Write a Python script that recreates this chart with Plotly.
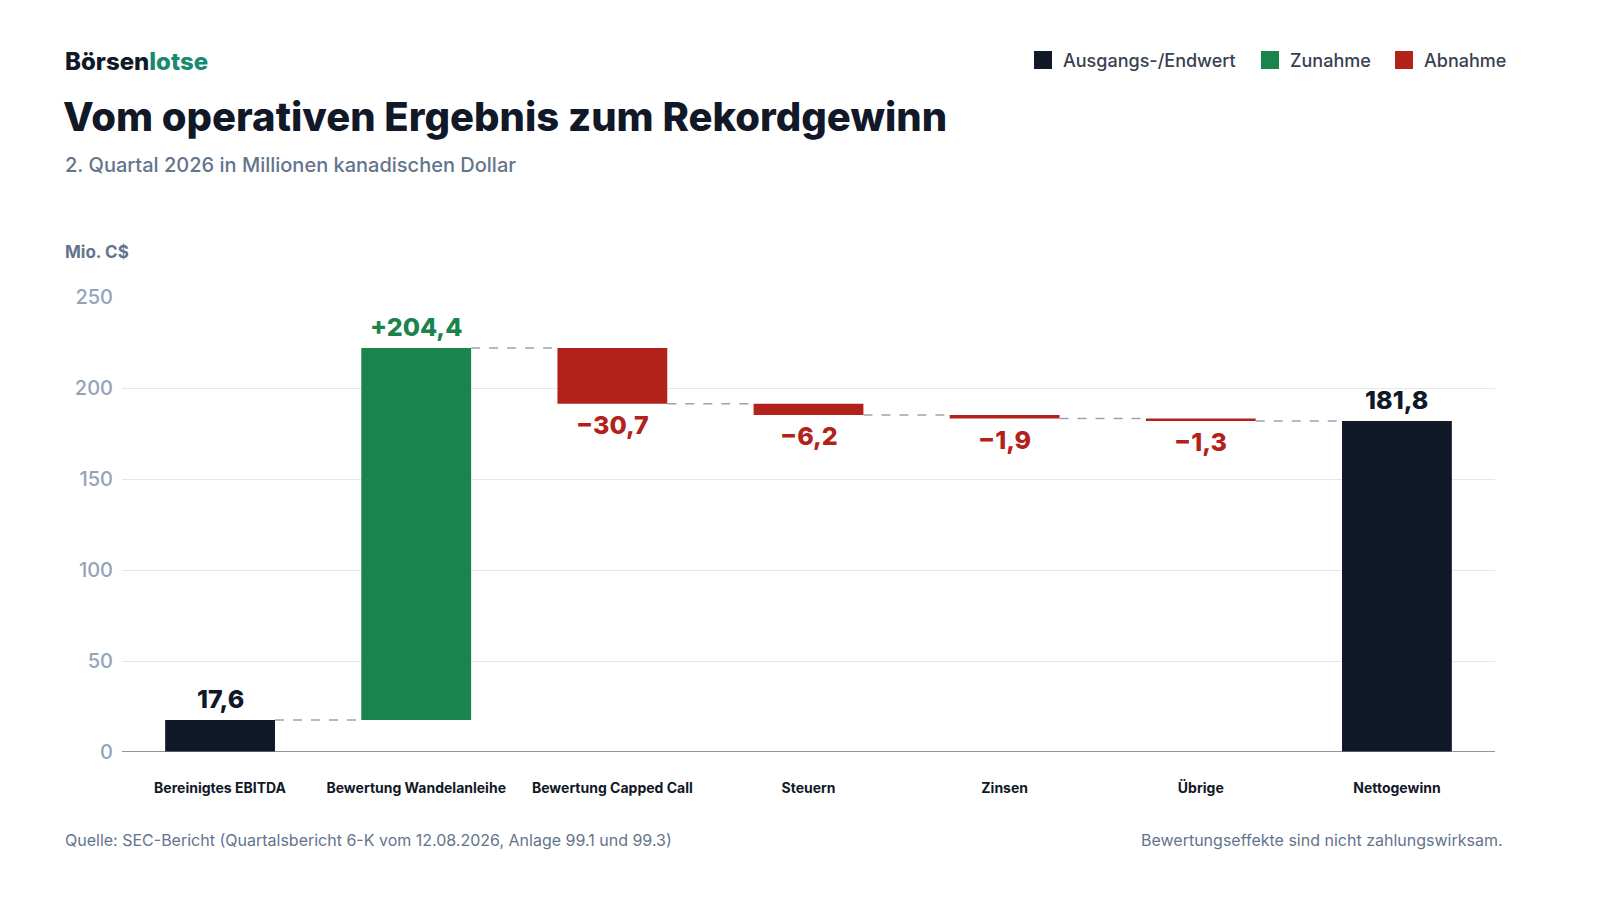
import plotly.graph_objects as go

categories = ["Bereinigtes EBITDA", "Bewertung Wandelanleihe", "Bewertung Capped Call",
              "Steuern", "Zinsen", "Übrige", "Nettogewinn"]
values = [17.6, 204.4, -30.7, -6.2, -1.9, -1.3, 181.8]
kinds = ["total", "delta", "delta", "delta", "delta", "delta", "total"]
labels = ["17,6", "+204,4", "−30,7", "−6,2", "−1,9", "−1,3", "181,8"]

DARK, GREEN, RED = "#111827", "#1b844c", "#b3221a"
W, H = 1600, 900
L, R, T, B = 122, 105, 297, 148
pw = W - L - R

bases, tops, colors = [], [], []
run = 0.0
for v, k in zip(values, kinds):
    if k == "total":
        bases.append(0); tops.append(v); colors.append(DARK); run = v
    else:
        bases.append(run); tops.append(run + v); colors.append(GREEN if v > 0 else RED); run += v

xs = list(range(len(categories)))
fig = go.Figure()
fig.add_trace(go.Bar(x=xs, y=[t - b for t, b in zip(tops, bases)], base=bases,
                     marker=dict(color=colors, line_width=0), width=0.56,
                     showlegend=False, hoverinfo="skip"))

shapes = []
for i in range(len(xs) - 1):
    yv = tops[i]
    shapes.append(dict(type="line", xref="x", yref="y", x0=i + 0.28, x1=i + 1 - 0.28,
                       y0=yv, y1=yv, line=dict(color="#9ca3af", width=1.5, dash="dash")))
shapes.append(dict(type="line", xref="paper", yref="y", x0=0, x1=1, y0=0, y1=0,
                   line=dict(color="#6b7280", width=1.5)))

ann = []
for i, (v, k) in enumerate(zip(values, kinds)):
    hi = max(tops[i], bases[i]); lo = min(tops[i], bases[i])
    if k == "total" or v > 0:
        col = DARK if k == "total" else GREEN
        ann.append(dict(x=i, y=hi, text=labels[i], showarrow=False, yanchor="bottom",
                        yshift=4, font=dict(size=25, color=col, weight=800)))
    else:
        ann.append(dict(x=i, y=lo, text=labels[i], showarrow=False, yanchor="top",
                        yshift=-4, font=dict(size=25, color=RED, weight=800)))

def px(xp): return (xp - L) / pw
def py(yp): return (H - B - yp) / (H - T - B)

legend_items = [("Ausgangs-/Endwert", DARK, 1034), ("Zunahme", GREEN, 1261), ("Abnahme", RED, 1395)]
for name, c, x0 in legend_items:
    shapes.append(dict(type="rect", xref="paper", yref="paper", x0=px(x0), x1=px(x0 + 18),
                       y0=py(69), y1=py(51), fillcolor=c, line_width=0))
    ann.append(dict(xref="paper", yref="paper", x=px(x0 + 27), y=py(60), xanchor="left",
                    yanchor="middle", text=name, showarrow=False,
                    font=dict(size=18, color="#374151", weight=500)))

ann += [
    dict(xref="paper", yref="paper", x=px(63), y=py(61), xanchor="left", yanchor="middle",
         text="Börsen<span style='color:#1a8a6e'>lotse</span>", showarrow=False,
         font=dict(size=24, color=DARK, weight=800)),
    dict(xref="paper", yref="paper", x=px(61), y=py(116), xanchor="left", yanchor="middle",
         text="Vom operativen Ergebnis zum Rekordgewinn", showarrow=False,
         font=dict(size=40, color=DARK, weight=800)),
    dict(xref="paper", yref="paper", x=px(63), y=py(165), xanchor="left", yanchor="middle",
         text="2. Quartal 2026 in Millionen kanadischen Dollar", showarrow=False,
         font=dict(size=20, color="#64748b", weight=500)),
    dict(xref="paper", yref="paper", x=px(63), y=py(252), xanchor="left", yanchor="middle",
         text="Mio. C$", showarrow=False, font=dict(size=17, color="#64748b", weight=700)),
    dict(xref="paper", yref="paper", x=px(63), y=py(840), xanchor="left", yanchor="middle",
         text="Quelle: SEC-Bericht (Quartalsbericht 6-K vom 12.08.2026, Anlage 99.1 und 99.3)",
         showarrow=False, font=dict(size=16, color="#64748b")),
    dict(xref="paper", yref="paper", x=px(1505), y=py(840), xanchor="right", yanchor="middle",
         text="Bewertungseffekte sind nicht zahlungswirksam.",
         showarrow=False, font=dict(size=16, color="#64748b")),
]

fig.update_layout(
    width=W, height=H, margin=dict(l=L, r=R, t=T, b=B),
    paper_bgcolor="white", plot_bgcolor="white",
    font=dict(family="Inter, sans-serif"),
    shapes=shapes, annotations=ann, showlegend=False,
    xaxis=dict(tickvals=xs, ticktext=categories, range=[-0.5, 6.5],
               tickfont=dict(size=14, color=DARK, weight=700), showgrid=False, zeroline=False,
               ticks="", ticklabelstandoff=26),
    yaxis=dict(range=[0, 250], tickvals=[0, 50, 100, 150, 200, 250], gridcolor="#e5e7eb",
               tickfont=dict(size=20, color="#94a3b8", weight=500), zeroline=False,
               ticklabelstandoff=8),
)
fig.write_html("out.html", config={"displayModeBar": False},
               post_script="document.body.style.margin='0';document.body.style.overflow='hidden';")
